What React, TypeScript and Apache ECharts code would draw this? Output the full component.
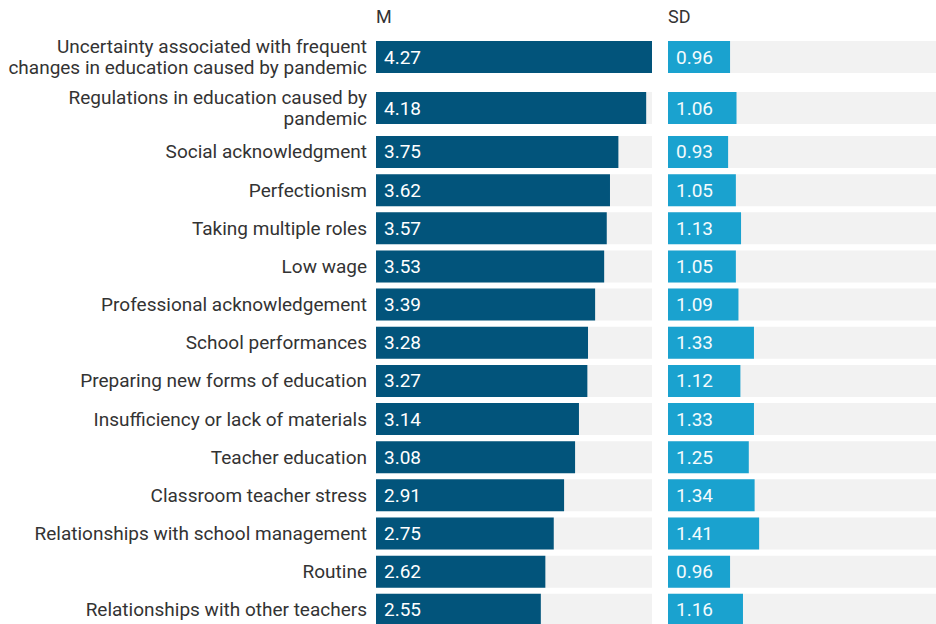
import React, { useEffect, useRef } from "react";
import * as echarts from "echarts";

const categories = [
  "Uncertainty associated with frequent\nchanges in education caused by pandemic",
  "Regulations in education caused by\npandemic",
  "Social acknowledgment",
  "Perfectionism",
  "Taking multiple roles",
  "Low wage",
  "Professional acknowledgement",
  "School performances",
  "Preparing new forms of education",
  "Insufficiency or lack of materials",
  "Teacher education",
  "Classroom teacher stress",
  "Relationships with school management",
  "Routine",
  "Relationships with other teachers",
];
const meanValues = [4.27, 4.18, 3.75, 3.62, 3.57, 3.53, 3.39, 3.28, 3.27, 3.14, 3.08, 2.91, 2.75, 2.62, 2.55];
const sdValues = [0.96, 1.06, 0.93, 1.05, 1.13, 1.05, 1.09, 1.33, 1.12, 1.33, 1.25, 1.34, 1.41, 0.96, 1.16];
const columnTitles = ["M", "SD"];

const FONT = "Roboto, 'Noto Sans', sans-serif";
const M_COLOR = "#02547b";
const SD_COLOR = "#1aa2cf";
const BG = "#f2f2f2";

export default function App() {
  const ref = useRef<HTMLDivElement>(null);
  useEffect(() => {
    document.body.style.margin = "0";
    const chart = echarts.init(ref.current!, undefined, { renderer: "svg" });
    const maxVal = Math.max(...meanValues);
    const groups = [
      { s: 0, e: 1, top: 38, height: 38 },
      { s: 1, e: 2, top: 89, height: 38 },
      { s: 2, e: 15, top: 132.9, height: 13 * 38.15 },
    ];
    const panels = [
      { left: 376, values: meanValues, color: M_COLOR, labelColor: "#ffffff", showCats: true },
      { left: 668, values: sdValues, color: SD_COLOR, labelColor: "#f4fbfd", showCats: false },
    ];
    const grid: any[] = [];
    const xAxis: any[] = [];
    const yAxis: any[] = [];
    const series: any[] = [];
    panels.forEach((p) => {
      groups.forEach((g) => {
        const idx = grid.length;
        grid.push({ left: p.left, top: g.top, width: 276, height: g.height, containLabel: false });
        xAxis.push({
          type: "value",
          gridIndex: idx,
          min: 0,
          max: maxVal,
          show: false,
        });
        yAxis.push({
          type: "category",
          gridIndex: idx,
          inverse: true,
          data: categories.slice(g.s, g.e),
          axisLine: { show: false },
          axisTick: { show: false },
          axisLabel: {
            show: p.showCats,
            margin: 9,
            color: "#333333",
            fontFamily: FONT,
            fontSize: 19,
            lineHeight: 21.5,
            align: "right",
          },
        });
        series.push({
          type: "bar",
          xAxisIndex: idx,
          yAxisIndex: idx,
          data: p.values.slice(g.s, g.e),
          barWidth: 32,
          itemStyle: { color: p.color },
          showBackground: true,
          backgroundStyle: { color: BG },
          label: {
            show: true,
            position: "insideLeft",
            distance: 8,
            color: p.labelColor,
            fontFamily: FONT,
            fontSize: 19,
            formatter: (d: any) => d.value.toFixed(2),
          },
        });
      });
    });
    chart.setOption({
      animation: false,
      backgroundColor: "#ffffff",
      title: panels.map((p, i) => ({
        text: columnTitles[i],
        left: p.left,
        top: 7,
        padding: 0,
        textStyle: { fontFamily: FONT, fontSize: 18, fontWeight: "normal", color: "#333333" },
      })),
      grid,
      xAxis,
      yAxis,
      series,
    });
    return () => chart.dispose();
  }, []);
  return (
    <div style={{ width: 936, height: 624, overflow: "hidden", position: "relative" }}>
      <div ref={ref} style={{ width: 960, height: 650 }} />
    </div>
  );
}
